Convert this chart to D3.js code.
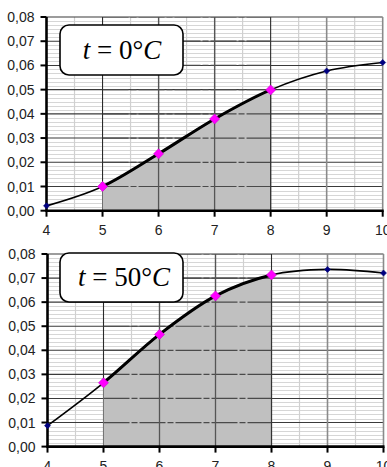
<!DOCTYPE html>
<html>
<head>
<meta charset="utf-8">
<script src="https://cdn.jsdelivr.net/npm/d3@7/dist/d3.min.js"></script>
<style>
  html, body { margin: 0; padding: 0; background: #fff; }
  svg { display: block; }
</style>
</head>
<body>
<svg id="chart" width="387" height="467"></svg>
<script>
// x values (common to both panels)
const xValues = [4, 5, 6, 7, 8, 9, 10];
// curve at t = 0 °C
const valuesT0 = [0.0020, 0.0100, 0.0235, 0.0379, 0.0499, 0.0577, 0.0612];
// curve at t = 50 °C
const valuesT50 = [0.0087, 0.0265, 0.0466, 0.0626, 0.0713, 0.0736, 0.0721];
// panel captions (temperature)
const temperatures = ["0", "50"];
// axis ticks
const xTicks = [4, 5, 6, 7, 8, 9, 10];
const yTicks = [0, 0.01, 0.02, 0.03, 0.04, 0.05, 0.06, 0.07, 0.08];
// shaded interval under the curve
const shadeFrom = 5, shadeTo = 8;

const svg = d3.select("#chart");
const fmt = d => d3.format(".2f")(d).replace(".", ",");

const panels = [
  { values: valuesT0, temp: temperatures[0], left: 46.5, right: 382.7, top: 17, bottom: 210.7,
    box: { x: 60, y: 25, w: 123, h: 50 }, textX: 122, textY: 59 },
  { values: valuesT50, temp: temperatures[1], left: 47.5, right: 383.5, top: 254, bottom: 446.6,
    box: { x: 60, y: 253, w: 123, h: 49 }, textX: 124, textY: 286 }
];

panels.forEach((p, i) => {
  const x = d3.scaleLinear().domain([4, 10]).range([p.left, p.right]);
  const y = d3.scaleLinear().domain([0, 0.08]).range([p.bottom, p.top]);
  const g = svg.append("g");
  const data = xValues.map((v, k) => ({ x: v, y: p.values[k] }));
  const curve = d3.curveCardinal.tension(0);

  // minor horizontal grid (5 lines between major ticks)
  const minor = [];
  for (let k = 0; k < 8; k++) for (let m = 1; m < 6; m++) minor.push(yTicks[k] + m * 0.01 / 6);
  g.selectAll(".hminor").data(minor).join("line")
    .attr("x1", p.left).attr("x2", p.right)
    .attr("y1", d => Math.round(y(d)) + 0.5).attr("y2", d => Math.round(y(d)) + 0.5)
    .attr("stroke", "#d6d6d6").attr("stroke-width", 1);
  // minor vertical grid at half units
  g.selectAll(".vminor").data(d3.range(4.5, 10, 1)).join("line")
    .attr("x1", d => x(d)).attr("x2", d => x(d))
    .attr("y1", p.top).attr("y2", p.bottom)
    .attr("stroke", "#d0d0d0").attr("stroke-width", 1.2);
  // major horizontal grid
  g.selectAll(".hmajor").data(yTicks.slice(1)).join("line")
    .attr("x1", p.left).attr("x2", p.right)
    .attr("y1", d => y(d)).attr("y2", d => y(d))
    .attr("stroke", "#3a3a3a").attr("stroke-width", 1.1);
  // major vertical grid
  g.selectAll(".vmajor").data(xTicks.slice(1)).join("line")
    .attr("x1", d => x(d)).attr("x2", d => x(d))
    .attr("y1", p.top).attr("y2", p.bottom)
    .attr("stroke", d => d >= 9 ? "#8a8a8a" : "#2a2a2a").attr("stroke-width", d => d >= 9 ? 1.6 : 1.1);

  // shaded area between shadeFrom and shadeTo
  const clipId = "shade" + i;
  svg.append("clipPath").attr("id", clipId).append("rect")
    .attr("x", x(shadeFrom)).attr("y", p.top)
    .attr("width", x(shadeTo) - x(shadeFrom)).attr("height", p.bottom - p.top);
  const area = d3.area().x(d => x(d.x)).y0(y(0)).y1(d => y(d.y)).curve(curve);
  g.append("path").datum(data).attr("d", area)
    .attr("fill", "#c0c0c0").attr("clip-path", `url(#${clipId})`);
  // grid lines showing through the shaded area
  const inner = g.append("g").attr("clip-path", `url(#${clipId})`);
  inner.selectAll("line.h").data(yTicks.slice(1)).join("line")
    .attr("x1", x(shadeFrom)).attr("x2", x(shadeTo))
    .attr("y1", d => y(d)).attr("y2", d => y(d))
    .attr("stroke", "#4a4a4a").attr("stroke-width", 1.2)
    .attr("stroke-dasharray", "26,2,6,2");
  inner.selectAll("line.v").data(d3.range(shadeFrom + 1, shadeTo, 1)).join("line")
    .attr("x1", d => x(d)).attr("x2", d => x(d))
    .attr("y1", p.top).attr("y2", p.bottom)
    .attr("stroke", "#555").attr("stroke-width", 1.3);
  g.append("line")
    .attr("x1", x(shadeTo)).attr("x2", x(shadeTo))
    .attr("y1", y(p.values[xValues.indexOf(shadeTo)])).attr("y2", p.bottom)
    .attr("stroke", "#333").attr("stroke-width", 1.2);

  // axes
  g.append("line").attr("x1", p.left).attr("x2", p.left)
    .attr("y1", p.top).attr("y2", p.bottom + 1)
    .attr("stroke", "#000").attr("stroke-width", 2.6);
  g.append("line").attr("x1", p.left - 1).attr("x2", p.right + 1)
    .attr("y1", p.bottom).attr("y2", p.bottom)
    .attr("stroke", "#000").attr("stroke-width", 2.6);
  g.selectAll(".ytick").data(yTicks).join("line")
    .attr("x1", p.left - 6).attr("x2", p.left)
    .attr("y1", d => y(d)).attr("y2", d => y(d))
    .attr("stroke", "#000").attr("stroke-width", 2);
  g.selectAll(".xtick").data(xTicks).join("line")
    .attr("x1", d => x(d)).attr("x2", d => x(d))
    .attr("y1", p.bottom).attr("y2", p.bottom + 6)
    .attr("stroke", "#000").attr("stroke-width", 2);
  g.selectAll(".ylab").data(yTicks).join("text")
    .attr("x", p.left - 12).attr("y", d => y(d)).attr("dy", "0.36em")
    .attr("text-anchor", "end")
    .attr("font-family", "Liberation Sans, Arial, sans-serif").attr("font-size", 14)
    .attr("fill", "#222").text(fmt);
  g.selectAll(".xlab").data(xTicks).join("text")
    .attr("x", d => x(d)).attr("y", p.bottom + 24)
    .attr("text-anchor", "middle")
    .attr("font-family", "Liberation Sans, Arial, sans-serif").attr("font-size", 14)
    .attr("fill", "#222").text(d => d);

  // curve
  const line = d3.line().x(d => x(d.x)).y(d => y(d.y)).curve(curve);
  g.append("path").datum(data).attr("d", line)
    .attr("fill", "none").attr("stroke", "#000").attr("stroke-width", 1.6);
  g.append("path").datum(data).attr("d", line)
    .attr("fill", "none").attr("stroke", "#000").attr("stroke-width", 3)
    .attr("clip-path", `url(#${clipId})`);

  // markers
  const inShade = d => d.x >= shadeFrom && d.x <= shadeTo;
  g.selectAll(".mk").data(data).join("path")
    .attr("transform", d => `translate(${x(d.x)},${y(d.y)})`)
    .attr("d", d => {
      const r = inShade(d) ? 5 : 3;
      return `M0,${-r}L${r},0L0,${r}L${-r},0Z`;
    })
    .attr("fill", d => inShade(d) ? "#ff00ff" : "#000080")
    .attr("stroke", d => inShade(d) ? "#d000d0" : "#000080")
    .attr("stroke-width", 0.6);

  // caption box
  g.append("rect")
    .attr("x", p.box.x).attr("y", p.box.y).attr("width", p.box.w).attr("height", p.box.h)
    .attr("rx", 9).attr("ry", 9)
    .attr("fill", "#fff").attr("stroke", "#000").attr("stroke-width", 1.6);
  const t = g.append("text")
    .attr("x", p.textX).attr("y", p.textY).attr("text-anchor", "middle")
    .attr("font-family", "Liberation Serif, Times New Roman, serif").attr("font-size", 27)
    .attr("fill", "#000");
  t.append("tspan").attr("font-style", "italic").text("t");
  t.append("tspan").text(" = " + p.temp + "°");
  t.append("tspan").attr("font-style", "italic").text("C");
});
</script>
</body>
</html>
